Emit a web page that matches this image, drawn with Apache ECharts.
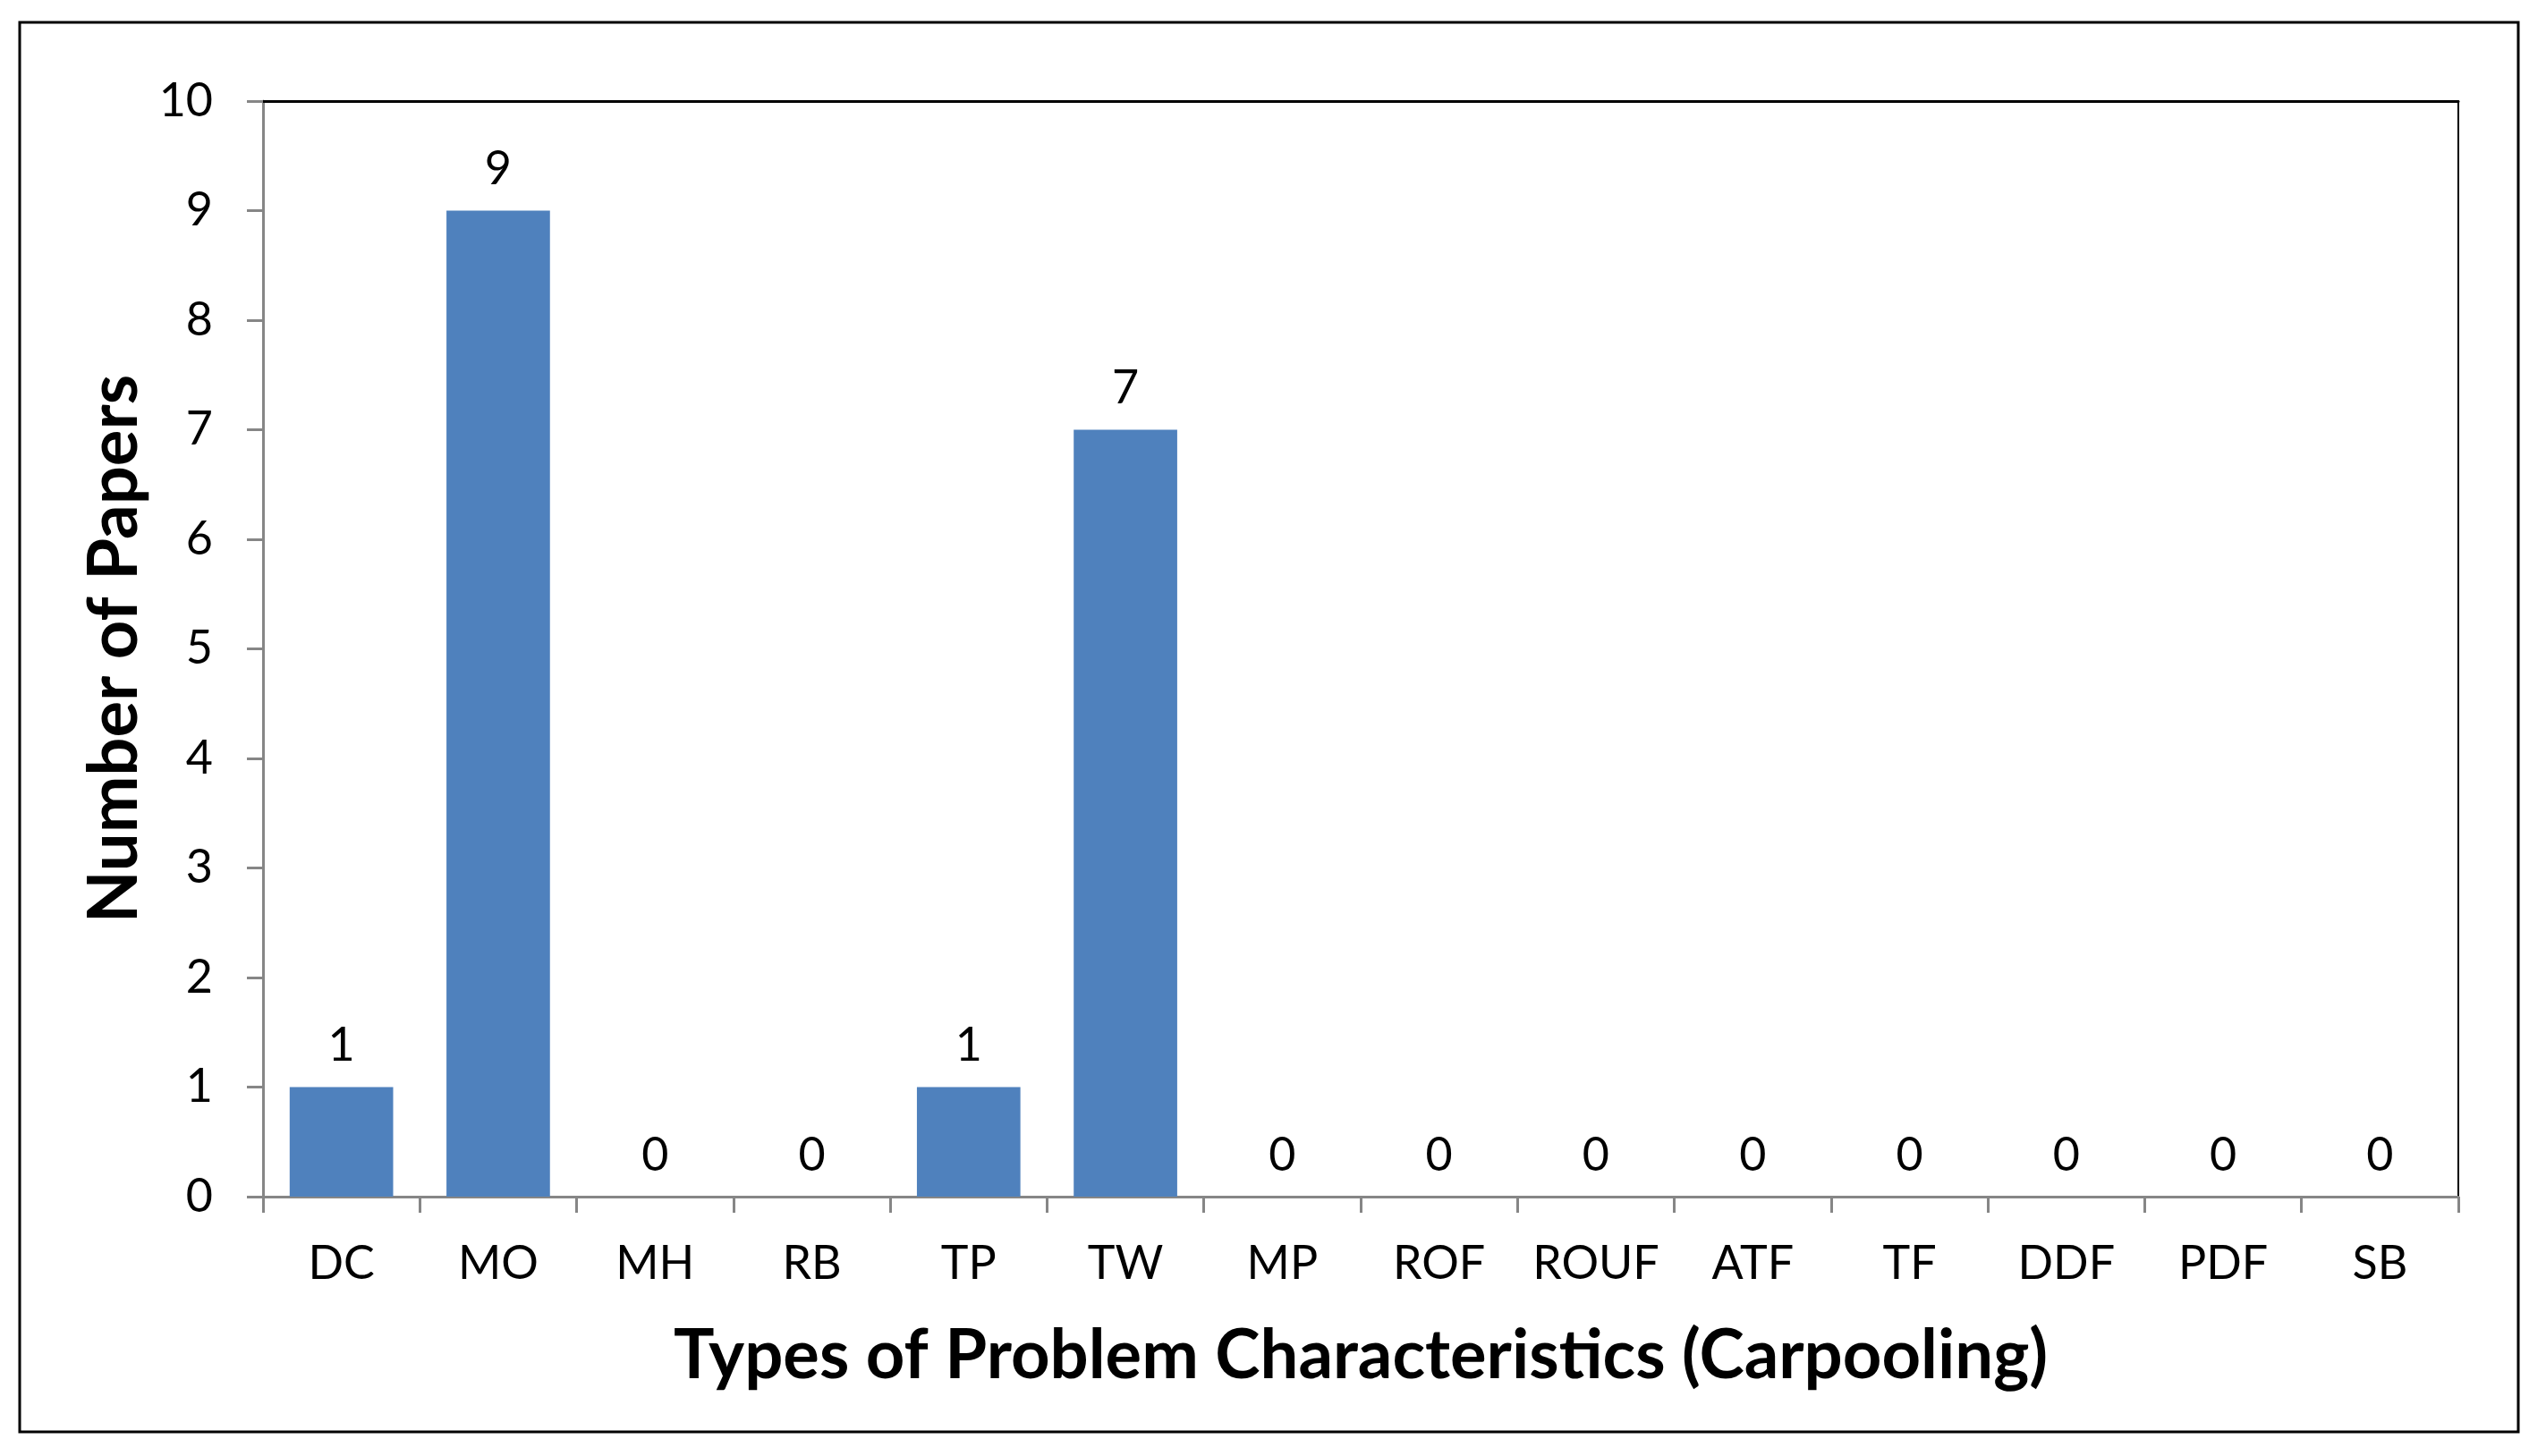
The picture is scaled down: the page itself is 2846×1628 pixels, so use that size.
<!DOCTYPE html>
<html>
<head>
<meta charset="utf-8">
<script src="https://cdn.jsdelivr.net/npm/echarts@6/dist/echarts.min.js"></script>
<style>
html,body{margin:0;padding:0;background:#fff;}
#chart{width:2846px;height:1628px;}
</style>
</head>
<body>
<div id="chart"></div>
<script>
const categories = ['DC','MO','MH','RB','TP','TW','MP','ROF','ROUF','ATF','TF','DDF','PDF','SB'];
const paperCounts = [1,9,0,0,1,7,0,0,0,0,0,0,0,0];
const yTicks = [0,1,2,3,4,5,6,7,8,9,10];
const xTitle = 'Types of Problem Characteristics (Carpooling)';
const yTitle = 'Number of Papers';

const FONT = 'Lato';
const AXIS_GRAY = '#868686';

const chart = echarts.init(document.getElementById('chart'), null, {renderer:'canvas'});
chart.setOption({
  backgroundColor:'#ffffff',
  animation:false,
  textStyle:{fontFamily:FONT},
  graphic:[{
    type:'rect',
    shape:{x:22,y:25,width:2793,height:1576},
    style:{fill:'none',stroke:'#000',lineWidth:3},
    silent:true
  }],
  grid:{left:294,right:98,top:113,bottom:290,containLabel:false},
  xAxis:[{
    type:'category',
    data:categories,
    position:'bottom',
    axisLine:{show:true,lineStyle:{color:AXIS_GRAY,width:3}},
    axisTick:{show:true,length:18,alignWithLabel:false,lineStyle:{color:AXIS_GRAY,width:3}},
    axisLabel:{fontSize:52,color:'#000',margin:49,fontFamily:FONT,interval:0},
    name:xTitle,
    nameLocation:'middle',
    nameGap:140,
    nameTextStyle:{fontSize:76,fontWeight:'bold',color:'#000',fontFamily:FONT},
    splitLine:{show:false}
  },{
    type:'category',
    data:categories,
    position:'top',
    axisLine:{show:true,onZero:false,lineStyle:{color:'#000',width:3}},
    axisTick:{show:false},
    axisLabel:{show:false},
    splitLine:{show:false}
  }],
  yAxis:[{
    type:'value',
    min:0,max:10,interval:1,
    position:'left',
    axisLine:{show:true,lineStyle:{color:AXIS_GRAY,width:3}},
    axisTick:{show:true,length:18,lineStyle:{color:AXIS_GRAY,width:3}},
    axisLabel:{fontSize:52,color:'#000',margin:56,fontFamily:FONT,
      formatter:function(v){return yTicks.indexOf(v)>=0?String(v):'';}},
    splitLine:{show:false},
    name:yTitle,
    nameLocation:'middle',
    nameGap:127,
    nameRotate:90,
    nameTextStyle:{fontSize:76,fontWeight:'bold',color:'#000',fontFamily:FONT}
  },{
    type:'value',
    min:0,max:10,interval:1,
    position:'right',
    axisLine:{show:true,onZero:false,lineStyle:{color:'#000',width:2}},
    axisTick:{show:false},
    axisLabel:{show:false},
    splitLine:{show:false}
  }],
  series:[{
    type:'bar',
    data:paperCounts,
    xAxisIndex:0,
    yAxisIndex:0,
    barCategoryGap:'34%',
    itemStyle:{color:'#4F81BD'},
    label:{show:true,position:'top',distance:20,fontSize:52,color:'#000',fontFamily:FONT}
  }]
});
</script>
</body>
</html>
